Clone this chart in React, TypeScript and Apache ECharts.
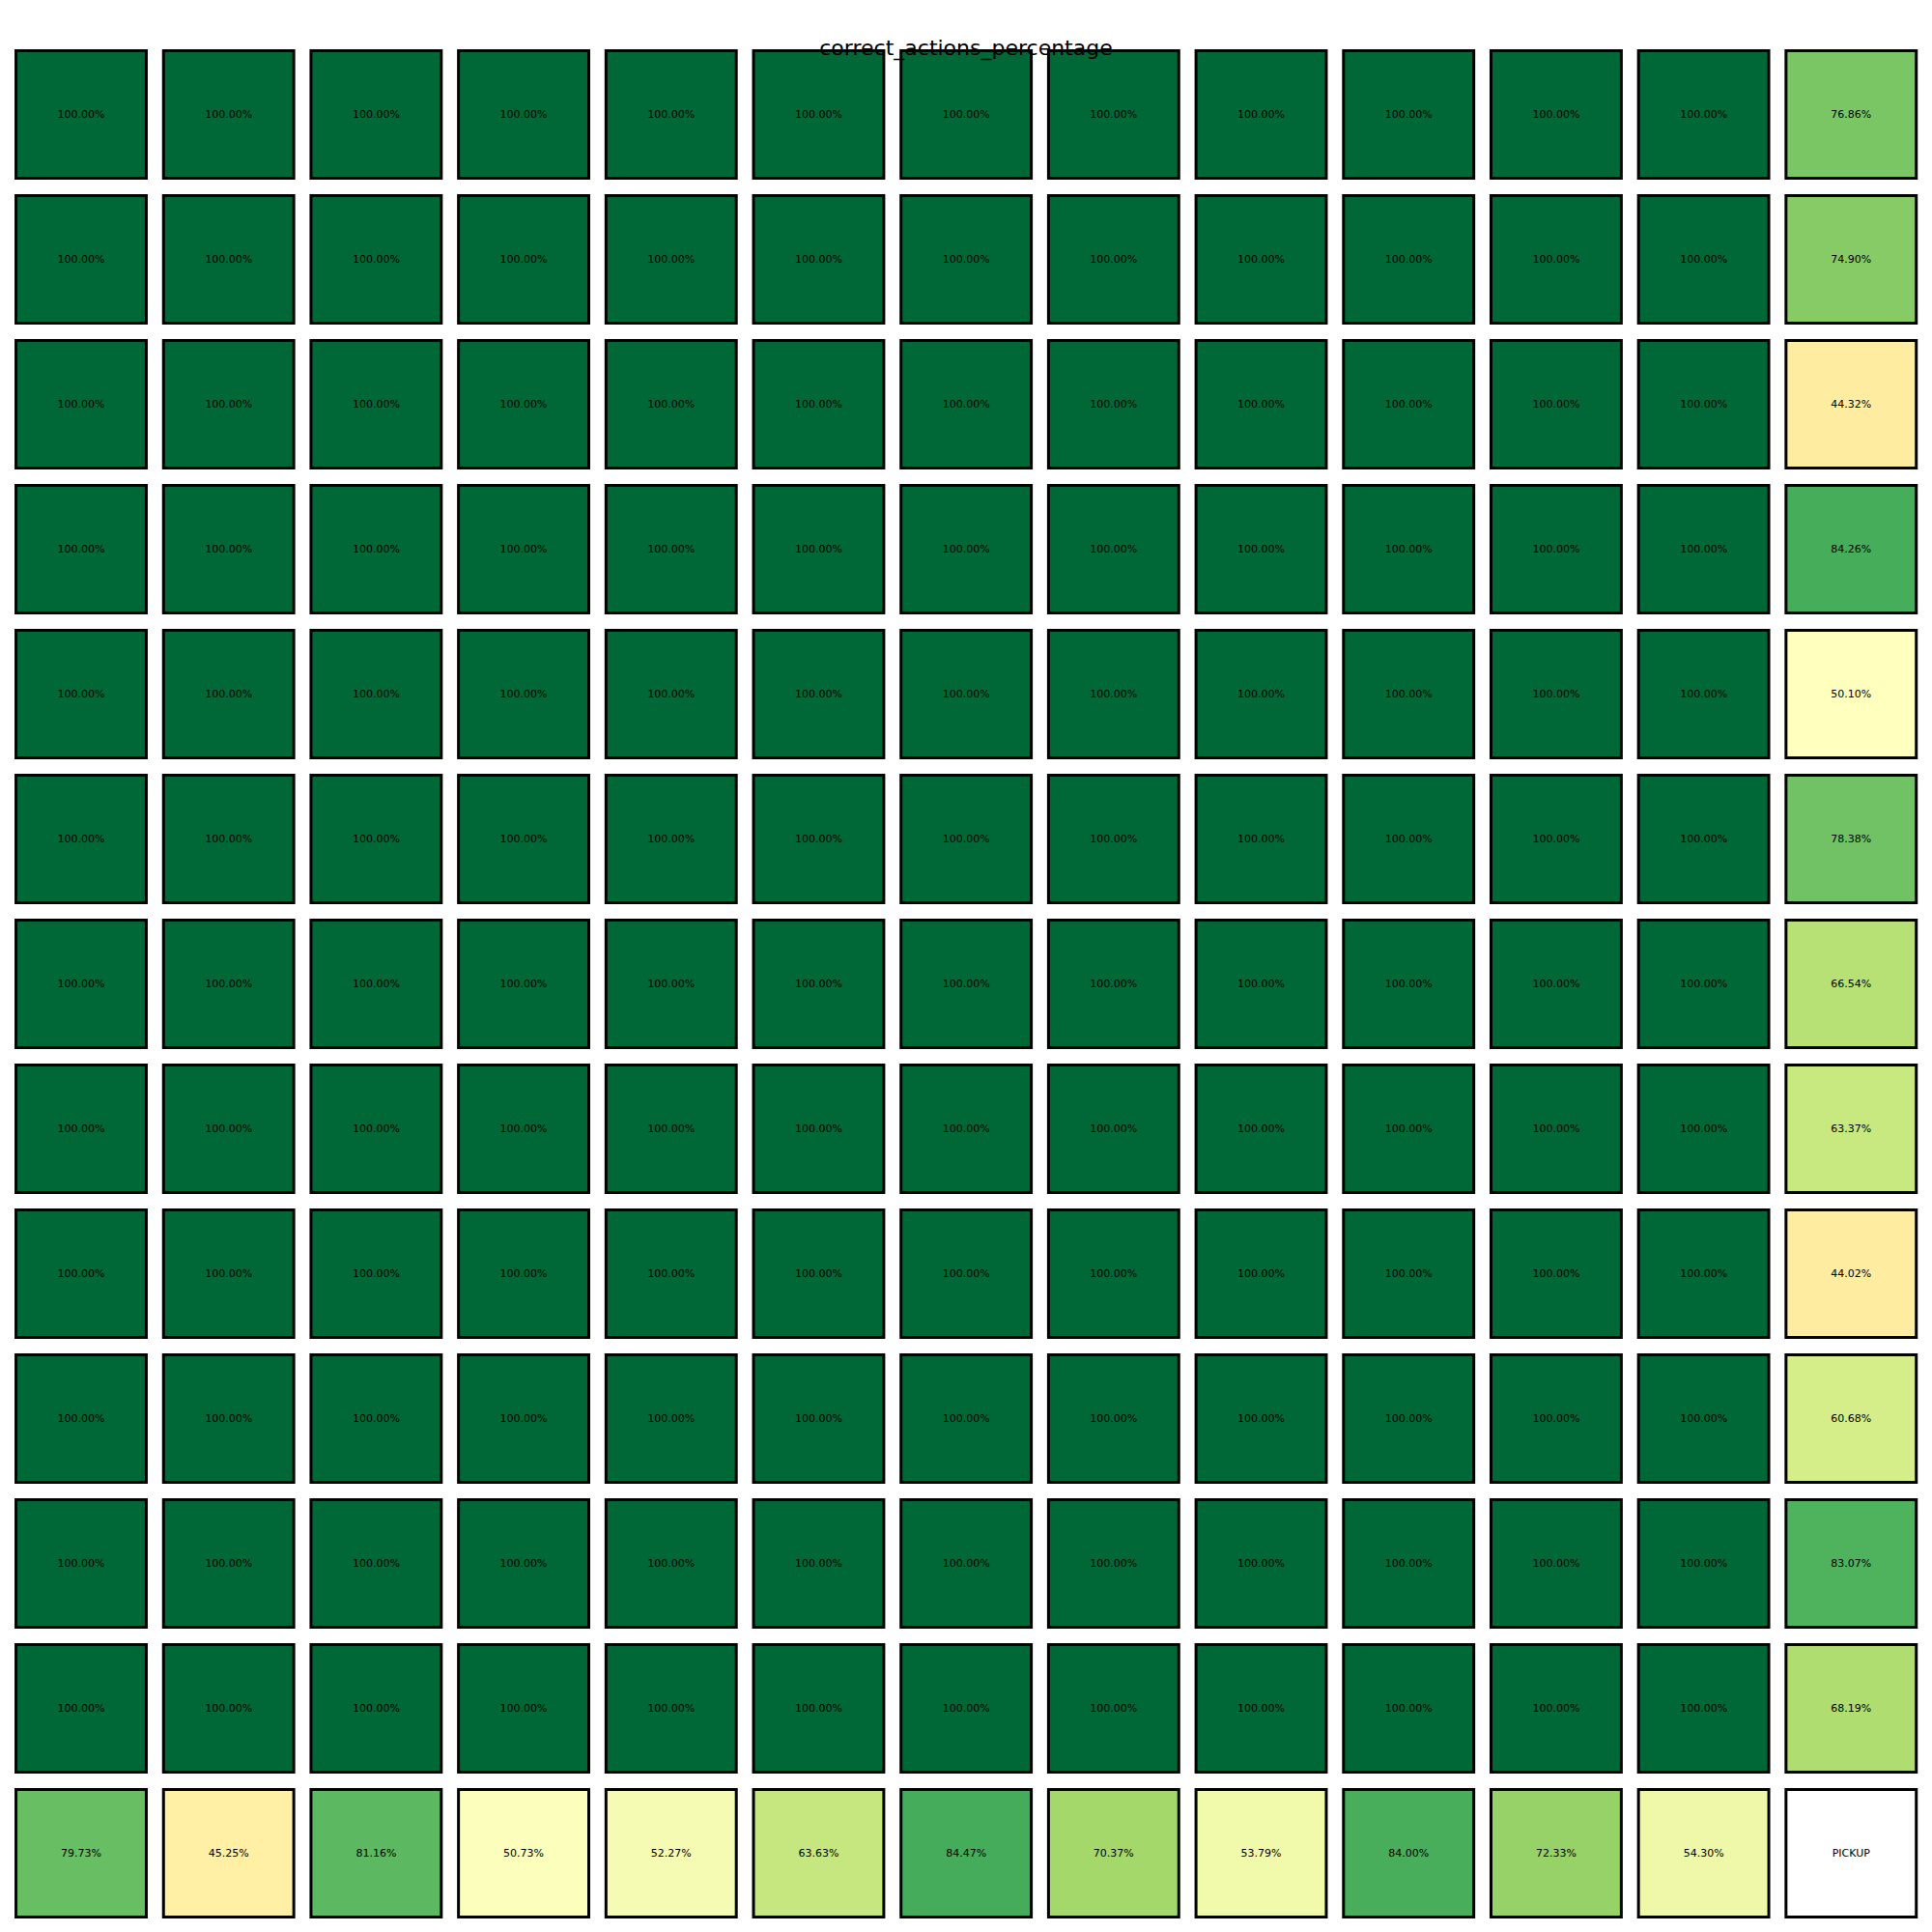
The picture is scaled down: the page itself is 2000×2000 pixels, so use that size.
import React, { useEffect, useRef } from "react";
import * as echarts from "echarts";

const TITLE = "correct_actions_percentage";
const COLUMNS = ["0", "1", "2", "3", "4", "5", "6", "7", "8", "9", "10", "11", "12"];
const ROWS = ["0", "1", "2", "3", "4", "5", "6", "7", "8", "9", "10", "11", "12"];

// values in percent; null = special cell (labelled)
const VALUES: (number | null)[][] = [
  [100, 100, 100, 100, 100, 100, 100, 100, 100, 100, 100, 100, 76.86],
  [100, 100, 100, 100, 100, 100, 100, 100, 100, 100, 100, 100, 74.9],
  [100, 100, 100, 100, 100, 100, 100, 100, 100, 100, 100, 100, 44.32],
  [100, 100, 100, 100, 100, 100, 100, 100, 100, 100, 100, 100, 84.26],
  [100, 100, 100, 100, 100, 100, 100, 100, 100, 100, 100, 100, 50.1],
  [100, 100, 100, 100, 100, 100, 100, 100, 100, 100, 100, 100, 78.38],
  [100, 100, 100, 100, 100, 100, 100, 100, 100, 100, 100, 100, 66.54],
  [100, 100, 100, 100, 100, 100, 100, 100, 100, 100, 100, 100, 63.37],
  [100, 100, 100, 100, 100, 100, 100, 100, 100, 100, 100, 100, 44.02],
  [100, 100, 100, 100, 100, 100, 100, 100, 100, 100, 100, 100, 60.68],
  [100, 100, 100, 100, 100, 100, 100, 100, 100, 100, 100, 100, 83.07],
  [100, 100, 100, 100, 100, 100, 100, 100, 100, 100, 100, 100, 68.19],
  [79.73, 45.25, 81.16, 50.73, 52.27, 63.63, 84.47, 70.37, 53.79, 84.0, 72.33, 54.3, null],
];
const SPECIAL_LABEL = "PICKUP";

const RDYLGN = [
  "#a50026", "#d73027", "#f46d43", "#fdae61", "#fee08b", "#ffffbf",
  "#d9ef8b", "#a6d96a", "#66bd63", "#1a9850", "#006837",
];
const VMIN = 0;
const VMAX = 100;

function hexToRgb(h: string) {
  return [parseInt(h.slice(1, 3), 16), parseInt(h.slice(3, 5), 16), parseInt(h.slice(5, 7), 16)];
}
function colorFor(v: number | null): string {
  if (v === null) return "#ffffff";
  let t = (v - VMIN) / (VMAX - VMIN);
  t = Math.max(0, Math.min(1, t));
  const pos = t * (RDYLGN.length - 1);
  const i = Math.min(Math.floor(pos), RDYLGN.length - 2);
  const f = pos - i;
  const a = hexToRgb(RDYLGN[i]);
  const b = hexToRgb(RDYLGN[i + 1]);
  const c = a.map((x, k) => Math.round(x + (b[k] - x) * f));
  return `rgb(${c[0]},${c[1]},${c[2]})`;
}

export default function App() {
  const ref = useRef<HTMLDivElement>(null);
  useEffect(() => {
    if (!ref.current) return;
    const chart = echarts.init(ref.current, undefined, { renderer: "svg" });
    const data: any[] = [];
    VALUES.forEach((row, r) => {
      row.forEach((v, c) => {
        data.push([c, r, v === null ? 0 : v, v === null ? SPECIAL_LABEL : v.toFixed(2) + "%", v === null ? 1 : 0]);
      });
    });
    chart.setOption({
      animation: false,
      backgroundColor: "#ffffff",
      grid: { left: 7.65, top: 43.5, width: 1985, height: 1950 },
      xAxis: {
        type: "category",
        data: COLUMNS,
        show: false,
      },
      yAxis: {
        type: "category",
        data: ROWS,
        inverse: true,
        show: false,
      },
      graphic: [
        {
          type: "text",
          x: 1000,
          y: 49,
          z: 100,
          style: {
            text: TITLE,
            fill: "#000",
            font: '22px "DejaVu Sans"',
            align: "center",
            verticalAlign: "middle",
          },
        },
      ],
      series: [
        {
          type: "custom",
          coordinateSystem: "cartesian2d",
          encode: { x: 0, y: 1 },
          data,
          renderItem: (params: any, api: any) => {
            const c = api.value(0);
            const r = api.value(1);
            const special = api.value(4) === 1;
            const v = special ? null : (api.value(2) as number);
            const label = data[params.dataIndex][3];
            const center = api.coord([c, r]);
            const size = api.size([1, 1]);
            const w = size[0] * 0.903 - 3;
            const h = size[1] * 0.9 - 3;
            return {
              type: "group",
              children: [
                {
                  type: "rect",
                  shape: { x: center[0] - w / 2, y: center[1] - h / 2, width: w, height: h },
                  style: { fill: colorFor(v), stroke: "#000", lineWidth: 3 },
                },
                {
                  type: "text",
                  x: center[0],
                  y: center[1],
                  style: {
                    text: label,
                    fill: "#000",
                    font: '11px "DejaVu Sans"',
                    align: "center",
                    verticalAlign: "middle",
                  },
                },
              ],
            };
          },
        },
      ],
    });
    return () => chart.dispose();
  }, []);
  return (
    <div
      ref={ref}
      style={{ position: "absolute", left: 0, top: 0, width: 2000, height: 2000 }}
    />
  );
}
